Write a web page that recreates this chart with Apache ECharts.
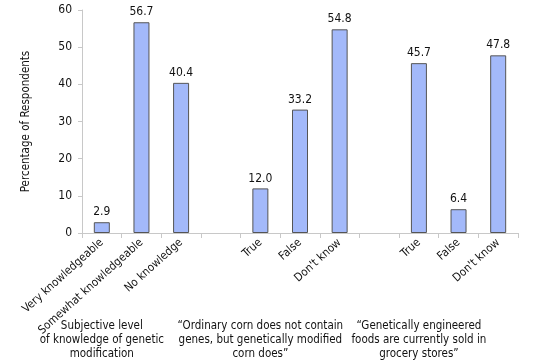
<!DOCTYPE html>
<html><head><meta charset="utf-8">
<script src="https://cdn.jsdelivr.net/npm/echarts@6/dist/echarts.min.js"></script>
<style>html,body{margin:0;padding:0;background:#fff}#c{width:537px;height:361px}</style>
</head><body><div id="c"></div>
<script>
const categories = ["Very knowledgeable","Somewhat knowledgeable","No knowledge","","True","False","Don't know","","True","False","Don't know"];
const values = [2.9, 56.7, 40.4, null, 12.0, 33.2, 54.8, null, 45.7, 6.4, 47.8];
const groupTitles = ["Subjective level\nof knowledge of genetic\nmodification","","","","\u201cOrdinary corn does not contain\ngenes, but genetically modified\ncorn does\u201d","","","","\u201cGenetically engineered\nfoods are currently sold in\ngrocery stores\u201d","",""];
const yTicks = {min:0, max:60, interval:10};
const font = "'DejaVu Sans Condensed','Liberation Sans',Arial,sans-serif";
const chart = echarts.init(document.getElementById('c'), null, {renderer:'canvas'});
chart.setOption({
  animation:false,
  backgroundColor:'#fff',
  grid:{left:82, right:19, top:10, bottom:128, outerBoundsMode:'none', containLabel:false},
  xAxis:[{
    type:'category', data:categories, position:'bottom',
    axisLine:{lineStyle:{color:'#c8c8c8'}},
    axisTick:{show:true, interval:0, length:5, lineStyle:{color:'#c8c8c8'}},
    axisLabel:{interval:0, rotate:42, fontFamily:font, fontSize:11.5, color:'#111', margin:8}
  },{
    type:'category', data:groupTitles, position:'bottom', offset:78,
    axisLine:{show:false}, axisTick:{show:false},
    axisLabel:{interval:0, fontFamily:font, fontSize:11.5, color:'#111', lineHeight:14, align:'center', verticalAlign:'top'}
  }],
  yAxis:{
    type:'value', min:yTicks.min, max:yTicks.max, interval:yTicks.interval,
    name:'Percentage of Respondents', nameLocation:'middle', nameGap:50,
    nameTextStyle:{fontFamily:font, fontSize:11.5, color:'#111'},
    axisLine:{show:true, lineStyle:{color:'#c8c8c8'}},
    axisTick:{show:true, length:4, lineStyle:{color:'#c8c8c8'}},
    splitLine:{show:false},
    axisLabel:{fontFamily:font, fontSize:12, color:'#111', margin:10}
  },
  series:[{
    type:'bar', data:values, barWidth:16, xAxisIndex:0,
    itemStyle:{color:'#a3b9fa', borderColor:'#555', borderWidth:1},
    label:{show:true, position:'top', distance:4, fontFamily:font, fontSize:12, color:'#111',
      formatter:p=>p.value==null?'':Number(p.value).toFixed(1)}
  }]
});
</script></body></html>
